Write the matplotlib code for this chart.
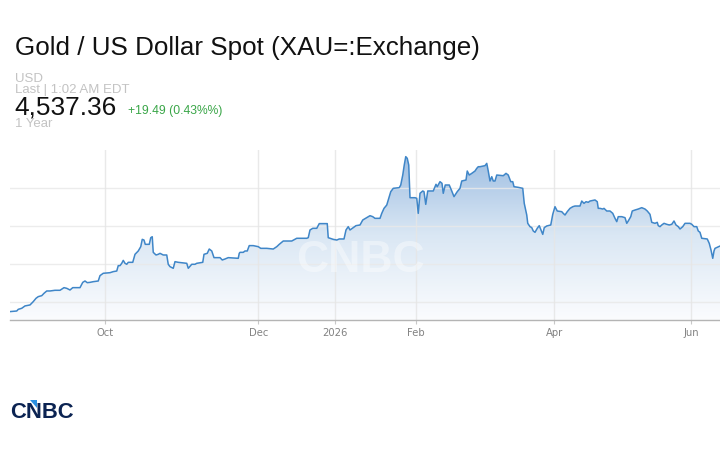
import numpy as np
import matplotlib
matplotlib.use("Agg")
import matplotlib.pyplot as plt
from matplotlib.colors import LinearSegmentedColormap
from matplotlib.patches import PathPatch, Polygon

# ---------------- data ----------------
days = [
    0.0, 2.7, 3.3, 4.7, 6.0, 8.0, 9.3, 10.4, 11.3, 12.7, 13.6, 14.7, 16.0, 18.0, 20.0, 21.6,
    22.7, 24.0, 25.1, 28.0, 29.1, 30.0, 30.9, 32.0, 33.3, 35.3, 36.0, 37.3, 40.0, 41.3, 42.7, 43.3,
    44.0, 44.7, 45.3, 46.0, 46.7, 47.3, 49.1, 50.0, 51.3, 52.3, 52.9, 53.6, 54.1, 55.7, 56.3, 56.9,
    57.3, 58.4, 59.3, 60.0, 61.3, 62.7, 63.3, 64.0, 65.3, 66.0, 67.3, 70.7, 71.3, 72.7, 74.0, 74.7,
    77.1, 77.6, 78.9, 79.7, 80.7, 81.6, 84.0, 84.9, 86.0, 87.3, 91.3, 91.7,
    92.0, 93.3, 94.0, 94.9, 95.7, 97.3, 99.3, 100.3, 102.7, 105.3, 106.7, 107.7, 108.7, 109.3, 112.7,
    114.7, 118.7, 119.3, 120.0, 121.1, 122.7, 123.7, 126.9, 127.3, 129.3, 130.7, 131.7, 133.6, 134.4,
    135.3, 136.0, 137.3, 138.4,
    140.0, 141.1, 142.7, 144.0, 145.1, 146.0, 148.0, 148.7, 149.6, 150.7, 151.3, 152.3, 153.3, 155.7,
    156.3, 157.1, 157.7, 158.3, 158.9, 159.5, 160.0, 162.0, 162.7, 163.3, 164.0, 165.1, 165.6, 166.3,
    167.1, 169.3, 170.4, 170.9, 172.0, 172.8, 173.3, 174.1, 175.7, 176.7, 177.6, 178.9, 180.0, 180.7,
    182.4, 182.9, 183.7, 184.7, 186.0, 186.7, 187.3,
    188.0, 190.0, 190.7, 191.3, 192.0, 192.7, 193.3, 194.0, 194.7, 197.3, 198.4, 199.3, 200.3, 201.1,
    201.6, 203.3, 205.1, 205.7, 206.7, 207.1, 208.0, 208.7, 209.3, 210.0, 210.9, 211.7, 212.4, 213.1,
    213.7, 214.7, 216.3, 217.1, 218.0, 218.9, 220.7, 221.3, 222.0, 222.9, 224.0, 225.1, 226.0, 228.0,
    228.7, 229.6, 230.4, 231.3, 232.0, 234.0, 234.9, 235.3,
    236.0, 237.1, 237.6, 238.7, 240.0, 241.1, 242.0, 242.7, 243.3, 244.7, 246.0, 246.7, 247.3, 248.3,
    248.9, 250.0, 251.3, 252.7, 254.0, 254.9, 256.0, 256.7, 258.0, 258.9, 259.3, 260.0, 260.7, 261.6,
    262.7, 263.7, 264.7, 265.6, 266.4, 267.3, 268.0, 269.1, 270.0, 272.0, 272.7, 273.6, 274.7, 275.3,
    276.0, 276.7, 278.9, 279.7, 280.4, 281.1, 281.6, 282.0, 284.0,
]
prices = [
    3670, 3678, 3700, 3714, 3745, 3758, 3802, 3846, 3868, 3881, 3912, 3943, 3943, 3952, 3952, 3987,
    3978, 3956, 3987, 3987, 4057, 4075, 4053, 4057, 4066, 4075, 4146, 4177, 4185, 4199, 4207, 4278,
    4278, 4309, 4348, 4309, 4296, 4322, 4322, 4428, 4472, 4529, 4626, 4617, 4560, 4560, 4648, 4661,
    4454, 4419, 4428, 4441, 4419, 4419, 4296, 4265, 4243, 4331, 4322, 4309, 4243, 4296, 4296, 4309,
    4322, 4428, 4441, 4498, 4472, 4384, 4384, 4353, 4366, 4384, 4375, 4441,
    4454, 4454, 4472, 4472, 4543, 4543, 4529, 4507, 4507, 4498, 4529, 4560, 4587, 4604, 4604,
    4640, 4640, 4648, 4750, 4772, 4772, 4834, 4834, 4648, 4626, 4617, 4631, 4631, 4750,
    4794, 4750, 4781, 4807,
    4816, 4882, 4913, 4939, 4926, 4904, 4904, 4970, 5036, 5080, 5147, 5257, 5301, 5310,
    5345, 5477, 5609, 5720, 5698, 5609, 5177, 5177, 5169, 4970, 5235, 5266, 5257, 5089,
    5266, 5266, 5354, 5323, 5389, 5367, 5235, 5345, 5345, 5266, 5191, 5257, 5301, 5398,
    5411, 5530, 5477, 5499, 5530, 5565, 5587,
    5587, 5601, 5631, 5530, 5398, 5455, 5398, 5398, 5477, 5468, 5499, 5477, 5389, 5389,
    5323, 5314, 5301, 5102, 4948, 4838, 4794, 4781, 4737, 4719, 4772, 4807, 4750, 4692,
    4781, 4803, 4816, 4957, 5058, 5001, 4992, 4970, 4948, 4992, 5036, 5058, 5067, 5067,
    5133, 5102, 5124, 5116, 5133, 5147, 5124, 5036,
    5036, 5027, 5036, 5001, 5001, 4970, 4904, 4860, 4926, 4926, 4913, 4838, 4869, 4926,
    5001, 5014, 5027, 5045, 5027, 5001, 4957, 4851, 4838, 4851, 4807, 4794, 4816, 4838,
    4825, 4816, 4825, 4869, 4816, 4794, 4763, 4794, 4838, 4838, 4825, 4794, 4794, 4737,
    4719, 4640, 4631, 4573, 4485, 4375, 4472, 4507, 4537.36,
]
tick_days = [38.1, 99.3, 130.0, 162.4, 217.7, 272.4]
tick_labels = ["Oct", "Dec", "2026", "Feb", "Apr", "Jun"]
grid_levels = [3800, 4300, 4800, 5300]

title = "Gold / US Dollar Spot (XAU=:Exchange)"
currency = "USD"
last_info = "Last | 1:02 AM EDT"
last_price = "4,537.36"
change = "+19.49 (0.43%%)"
period = "1 Year"

# ---------------- figure ----------------
plt.rcParams["font.family"] = ["Liberation Sans", "DejaVu Sans"]
W, H = 720, 450
fig = plt.figure(figsize=(W / 100, H / 100), dpi=100)
fig.patch.set_facecolor("white")

ax = fig.add_axes([10 / W, 130 / H, 710 / W, 170 / H])
ymin, ymax = 3559, 5808
ax.set_xlim(0, 284)
ax.set_ylim(ymin, ymax)

# gradient fill under the line
cmap = LinearSegmentedColormap.from_list("g", ["#fbfcfe", "#dae7f4", "#9bbce1"])
grad = np.linspace(0, 1, 256).reshape(-1, 1)
im = ax.imshow(grad, extent=[0, 284, ymin, ymax], origin="lower", aspect="auto",
               cmap=cmap, zorder=1, interpolation="bilinear")
poly = ax.fill_between(days, prices, ymin, facecolor="none", edgecolor="none")
clip = PathPatch(poly.get_paths()[0], transform=ax.transData, facecolor="none", edgecolor="none")
ax.add_patch(clip)
im.set_clip_path(clip)

ax.plot(days, prices, color="#3f86c8", lw=1.1, zorder=4, solid_joinstyle="round")

# grid
for g in grid_levels:
    ax.axhline(g, color="#e9e9e9", lw=1, zorder=2, alpha=0.85)
ax.set_xticks(tick_days)
ax.set_xticklabels(tick_labels, family="DejaVu Sans")
ax.set_yticks([])
ax.xaxis.grid(True, color="#e6e6e6", lw=1, zorder=2, alpha=0.85)
ax.set_axisbelow(False)
ax.tick_params(axis="x", length=3, color="#c8c8c8", labelcolor="#828282",
               labelsize=7.2, pad=2.5)
for s in ["top", "right", "left"]:
    ax.spines[s].set_visible(False)
ax.spines["bottom"].set_color("#b4b4b4")
ax.spines["bottom"].set_linewidth(1.0)
ax.spines["bottom"].set_zorder(5)

# watermark
ax.text(360 / W, 1 - 261 / H, "CNBC", transform=fig.transFigure, fontsize=32,
        weight="bold", color="white", alpha=0.4, ha="center", va="center", zorder=3)

# header
fig.text(15 / W, 1 - 55 / H, title, fontsize=18.7, color="#111111", va="baseline")
fig.text(15 / W, 1 - 81.7 / H, currency, fontsize=9.5, color="#c3c3c3", va="baseline")
fig.text(15 / W, 1 - 93.3 / H, last_info, fontsize=9.5, color="#c3c3c3", va="baseline")
fig.text(14 / W, 1 - 114.3 / H, last_price, fontsize=18.9, color="#111111", va="baseline")
fig.text(128 / W, 1 - 114.3 / H, change, fontsize=8.7, color="#3aa648", va="baseline")
fig.text(15 / W, 1 - 127 / H, period, fontsize=9.5, color="#c3c3c3", va="baseline")

# logo
fig.text(10 / W, 1 - 418.5 / H, "CNBC", fontsize=15.8, weight="bold", color="#0b2352",
         va="baseline")
tri = Polygon([[29.5 / W, 1 - 399.5 / H], [37 / W, 1 - 399.5 / H], [37 / W, 1 - 407.5 / H]],
              closed=True, transform=fig.transFigure, facecolor="#2a8fe0", edgecolor="none")
fig.patches.append(tri)

fig.savefig("out.png", dpi=100, facecolor="white")
